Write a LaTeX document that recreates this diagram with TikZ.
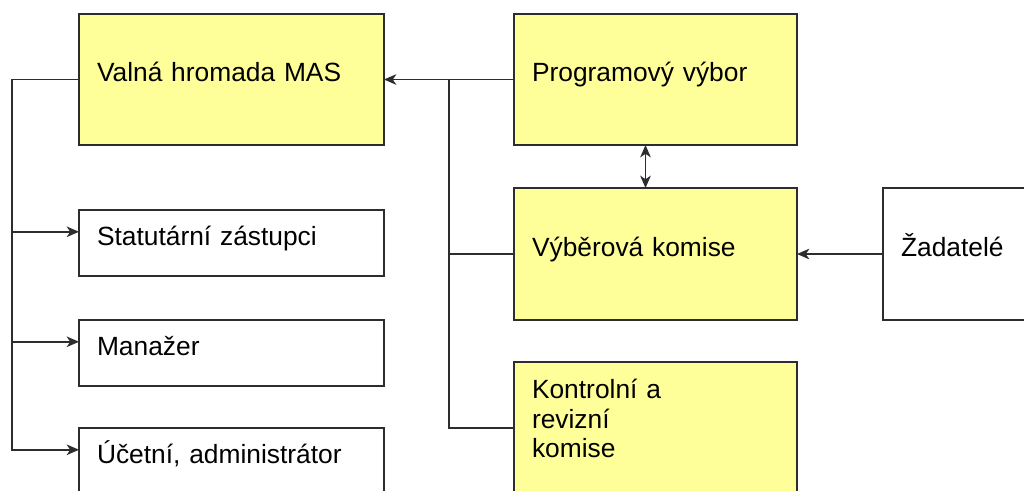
\documentclass[tikz,border=0pt]{standalone}
\usepackage{fontspec}
\setmainfont{Liberation Sans}
\usepackage{xcolor}
\usepackage{tikz}
\usetikzlibrary{calc, arrows.meta}

\definecolor{boxyellow}{RGB}{255,255,153}
\definecolor{linegray}{RGB}{45,45,45}

\tikzset{
	box/.style={draw=linegray, line width=1.1pt, rectangle, anchor=north west, outer sep=0pt, inner xsep=0.36cm, inner ysep=0pt, align=left, font=\fontsize{15}{17}\selectfont, text height=11pt, text depth=8.2pt},
	yellowbox/.style={box, fill=boxyellow},
	wire/.style={draw=linegray, line width=1.1pt},
	tip/.tip={Stealth[length=7pt, width=6pt, inset=2pt]},
}

\begin{document}
\begin{tikzpicture}
		\useasboundingbox (0,0) rectangle (20.48,-9.8);
		\clip (0,0) rectangle (20.48,-9.8);

		\begin{scope}
			\node [yellowbox, minimum width=6.1cm, text width=5.38cm, minimum height=2.62cm] (valna) at (1.58,-0.28) {Valná hromada MAS};
			\node [box, minimum width=6.1cm, text width=5.38cm, minimum height=1.32cm] (statutarni) at (1.58,-4.2) {Statutární zástupci};
			\node [box, minimum width=6.1cm, text width=5.38cm, minimum height=1.32cm] (manazer) at (1.58,-6.4) {Manažer};
			\node [box, minimum width=6.1cm, text width=5.38cm, minimum height=1.32cm] (ucetni) at (1.58,-8.56) {Účetní, administrátor};
		\end{scope}

		\begin{scope}
			\node [yellowbox, minimum width=5.66cm, text width=4.94cm, minimum height=2.62cm] (program) at (10.28,-0.28) {Programový výbor};
			\node [yellowbox, minimum width=5.66cm, text width=4.94cm, minimum height=2.64cm] (vyberova) at (10.28,-3.76) {Výběrová komise};
			\node [yellowbox, minimum width=5.66cm, text width=4.94cm, minimum height=2.64cm, text depth=45pt] (kontrolni) at (10.28,-7.24) {Kontrolní a\\revizní\\komise};
			\node [box, minimum width=3cm, text width=2.28cm, minimum height=2.64cm] (zadatele) at (17.66,-3.76) {Žadatelé};
		\end{scope}

		\begin{scope}
			\coordinate (trunkL) at ($ (valna.west) + (-1.34,0) $);
			\coordinate (trunkR) at ($ (valna.east) + (1.3,0) $);
			\coordinate (statIn) at ($ (statutarni.north west)!0.33!(statutarni.south west) $);
			\coordinate (manIn) at ($ (manazer.north west)!0.33!(manazer.south west) $);
			\coordinate (ucetIn) at ($ (ucetni.north west)!0.33!(ucetni.south west) $);

			\draw [wire, -tip] (valna.west) -- (trunkL) |- (ucetIn);
			\draw [wire, -tip] (trunkL |- statIn) -- (statIn);
			\draw [wire, -tip] (trunkL |- manIn) -- (manIn);

			\draw [wire, -tip] (program.west) -- (valna.east);
			\draw [wire] (trunkR) |- (kontrolni.west);
			\draw [wire] (trunkR |- vyberova.west) -- (vyberova.west);

			\draw [wire, tip-tip] ([xshift=-0.2cm]program.south) -- ([xshift=-0.2cm]vyberova.north);
			\draw [wire, -tip] (zadatele.west) -- (vyberova.east);
		\end{scope}
	\end{tikzpicture}
\end{document}
